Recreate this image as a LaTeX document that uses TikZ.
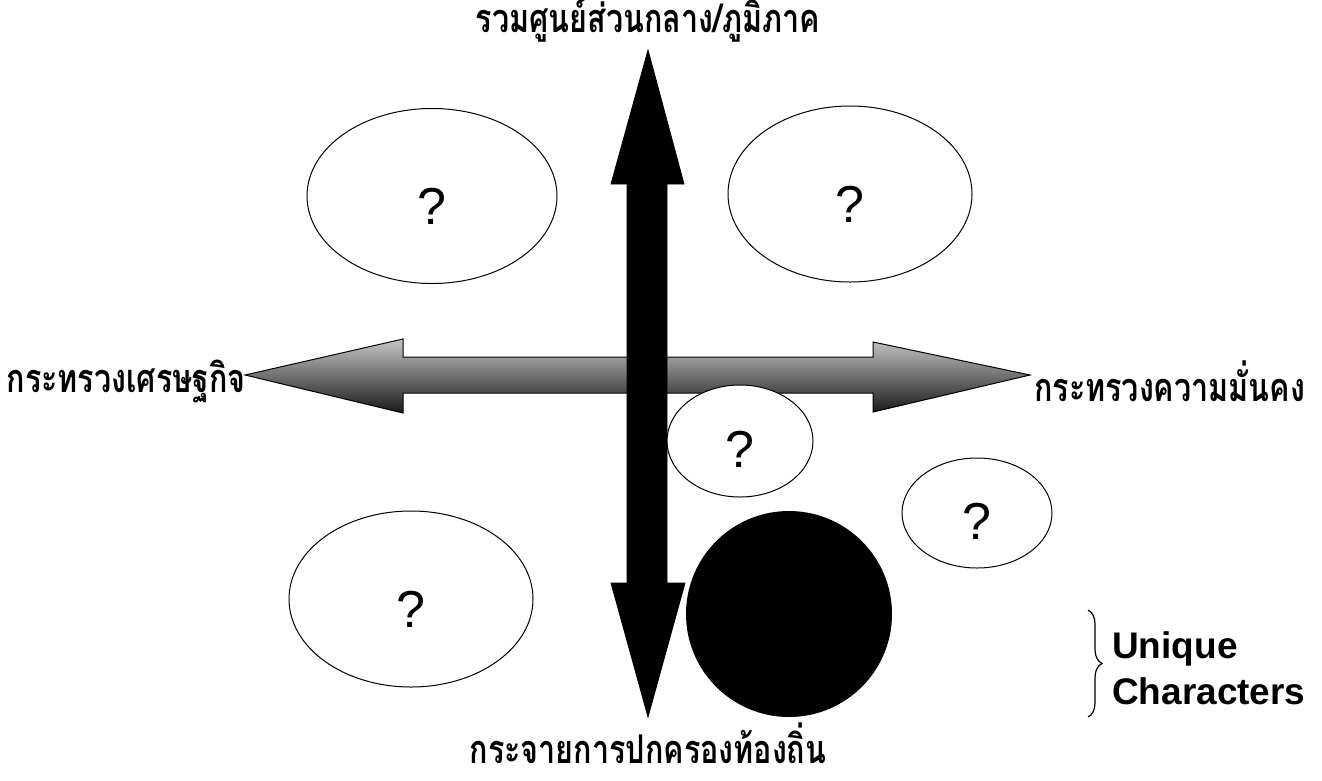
\documentclass[tikz,border=0pt]{standalone}
\usepackage{fontspec}
\setmainfont{Liberation Sans}
\newfontfamily\thaifont[Script=Thai]{Loma}
\usetikzlibrary{decorations.pathreplacing,shapes.geometric}
\newcommand{\tallthai}[1]{\scalebox{1}[1.3]{#1}}
\tikzset{
  bubble/.style={draw=black, line width=1pt, fill=white},
  qmark/.style={font=\fontsize{52}{56}\selectfont},
  thailabel/.style={font=\thaifont\bfseries\fontsize{30.5}{34}\selectfont, inner sep=0pt},
  blackarrow/.style={fill=black, draw=black, line width=0.8pt},
  grayarrow/.style={draw=black, line width=1pt, top color=gray!45, bottom color=black!90},
}
\begin{document}
\begin{tikzpicture}[x=1pt,y=-1pt]
\useasboundingbox (0,0) rectangle (1322,780);
% horizontal shaded double arrow
\draw[grayarrow] (245,375) -- (403,339) -- (403,357) -- (873,357) -- (873,342) -- (1030,375)
  -- (873,412) -- (873,393) -- (403,393) -- (403,413) -- cycle;
% vertical black double arrow
\draw[blackarrow] (648,50) -- (684,184) -- (667,184) -- (667,583) -- (685,583) -- (648,717)
  -- (611,583) -- (627,583) -- (627,184) -- (611,184) -- cycle;
% ellipses
\node[bubble, ellipse, minimum width=250, minimum height=175] (e1) at (432,196) {};
\node[qmark] at ([yshift=-10]e1.center) {?};
\node[bubble, ellipse, minimum width=244, minimum height=176] (e2) at (850,194) {};
\node[qmark] at ([yshift=-10]e2.center) {?};
\node[bubble, ellipse, minimum width=146, minimum height=112] (e3) at (740,441) {};
\node[qmark] at ([yshift=-8]e3.center) {?};
\node[bubble, ellipse, minimum width=150, minimum height=110] (e4) at (977,513) {};
\node[qmark] at ([yshift=-8]e4.center) {?};
\node[bubble, ellipse, minimum width=244, minimum height=176] (e5) at (411,599) {};
\node[qmark] at ([yshift=-10]e5.center) {?};
\node[circle, fill=black, minimum size=206] (c1) at (789,614) {};
% labels
\node[thailabel] (ltop) at (648,20) {\tallthai{รวมศูนย์ส่วนกลาง/ภูมิภาค}};
\node[thailabel, anchor=east] (lleft) at (246,381) {\tallthai{กระทรวงเศรษฐกิจ}};
\node[thailabel, anchor=west] (lright) at (1034,381) {\tallthai{กระทรวงความมั่นคง}};
\node[thailabel] (lbot) at (648,743) {\tallthai{กระจายการปกครองท้องถิ่น}};
% brace
\draw[line width=1.2pt, decorate, decoration={brace, amplitude=14pt, aspect=0.5}]
  (1088,610) -- (1088,717);
\node[font=\bfseries\fontsize{37}{40}\selectfont, anchor=west, align=left, inner sep=0pt] (uc) at (1112,668)
  {Unique\\[6pt]Characters};
\end{tikzpicture}
\end{document}
